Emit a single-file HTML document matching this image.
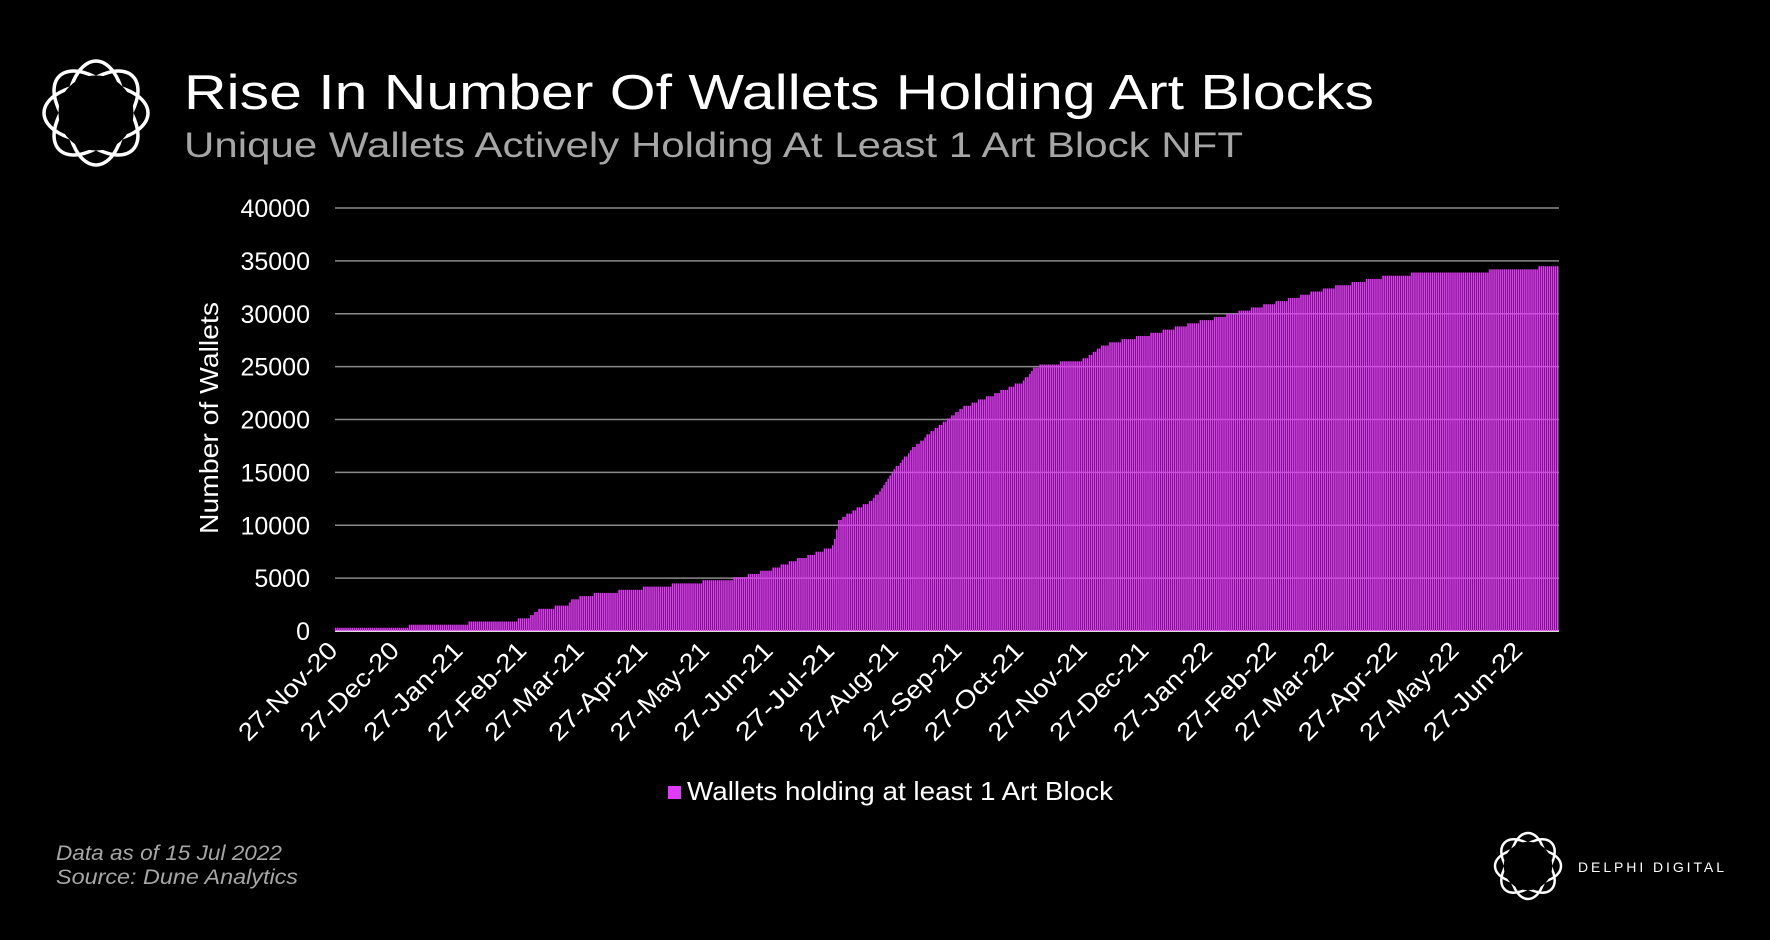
<!DOCTYPE html>
<html><head><meta charset="utf-8">
<style>
body{margin:0;background:#000;width:1770px;height:940px;overflow:hidden;font-family:"Liberation Sans",sans-serif;}
svg{position:absolute;left:0;top:0}
</style></head>
<body>
<svg id="s" width="1770" height="940" xmlns="http://www.w3.org/2000/svg">
<text x="184" y="109" fill="#fff" font-size="49" textLength="1190" lengthAdjust="spacingAndGlyphs">Rise In Number Of Wallets Holding Art Blocks</text>
<text x="184" y="157" fill="#a6a6a6" font-size="35" textLength="1059" lengthAdjust="spacingAndGlyphs">Unique Wallets Actively Holding At Least 1 Art Block NFT</text>
<g id="grid"></g>
<g id="bars"></g>
<g id="xl"></g>
<text transform="translate(218,418) rotate(-90)" text-anchor="middle" fill="#fff" font-size="26" textLength="232" lengthAdjust="spacingAndGlyphs">Number of Wallets</text>
<rect x="668" y="786" width="13" height="13" fill="#e03cf5"/>
<text x="687" y="800" fill="#fff" font-size="26" textLength="426" lengthAdjust="spacingAndGlyphs">Wallets holding at least 1 Art Block</text>
<text x="56" y="860" fill="#a6a6a6" font-size="21" font-style="italic" textLength="226" lengthAdjust="spacingAndGlyphs">Data as of 15 Jul 2022</text>
<text x="56" y="884" fill="#a6a6a6" font-size="21" font-style="italic" textLength="242" lengthAdjust="spacingAndGlyphs">Source: Dune Analytics</text>
<text x="1578" y="872" fill="#fff" font-size="14" letter-spacing="3" textLength="149">DELPHI DIGITAL</text>
<g id="logos"></g>
</svg>
<script>
var NS="http://www.w3.org/2000/svg",s=document.getElementById('s');
function el(p,t,a){var e=document.createElementNS(NS,t);for(var k in a)e.setAttribute(k,a[k]);p.appendChild(e);return e;}
function logo(cx,cy,r,sw){var g=el(document.getElementById('logos'),'g',{fill:'none',stroke:'#fff','stroke-width':sw});
 for(var i=0;i<4;i++){el(g,'ellipse',{cx:cx,cy:cy,rx:r,ry:r*0.55,transform:'rotate('+(i*45)+' '+cx+' '+cy+')'});}
 el(g,'circle',{cx:cx,cy:cy,r:r*0.62,stroke:'#000','stroke-width':sw*3,fill:'#000'});}
logo(96,113,52,3.5);logo(1528,866,33,2.5);
var L=335,R=1559,Y0=631,Y40=208;
function yv(v){return Y0-(v/40000)*(Y0-Y40);}
var gg=document.getElementById('grid');
for(var v=0;v<=40000;v+=5000){var y=yv(v);
 el(gg,'line',{x1:L,x2:R,y1:y,y2:y,stroke:v==0?'#d9d9d9':'#8a8a8a','stroke-width':v==0?2:1.5});
 var t=el(gg,'text',{x:310,y:y+9,'text-anchor':'end',fill:'#fff','font-size':25});t.textContent=v;}
var pts=[[0,200],[30,400],[61,700],[92,1100],[101,2200],[113,2300],[115,2900],[120,3300],[151,4100],[181,4700],[196,5000],[212,5800],[242,8000],[245,10500],[262,12500],[273,15500],[282,17500],[304,21000],[334,23500],[341,25000],[365,25700],[373,27000],[395,28000],[426,29500],[457,31000],[485,32500],[516,33700],[546,33900],[577,34200],[595,34500]];
function val(d){for(var i=1;i<pts.length;i++){if(d<=pts[i][0]){var a=pts[i-1],b=pts[i];return a[1]+(b[1]-a[1])*(d-a[0])/(b[0]-a[0]);}}return 34500;}
var N=596,w=(R-L)/N,bg=document.getElementById('bars');
for(var d=0;d<N;d++){var v=Math.round(val(d)/300)*300;var y=yv(v);
 el(bg,'rect',{x:(L+d*w).toFixed(2),y:y.toFixed(1),width:(w*0.75).toFixed(2),height:(Y0-y).toFixed(1),fill:'#e23cf8'});}
var mons=["27-Nov-20","27-Dec-20","27-Jan-21","27-Feb-21","27-Mar-21","27-Apr-21","27-May-21","27-Jun-21","27-Jul-21","27-Aug-21","27-Sep-21","27-Oct-21","27-Nov-21","27-Dec-21","27-Jan-22","27-Feb-22","27-Mar-22","27-Apr-22","27-May-22","27-Jun-22"];
var days=[0,30,61,92,120,151,181,212,242,273,304,334,365,395,426,457,485,516,546,577];
var xg=document.getElementById('xl');
for(var i=0;i<mons.length;i++){var x=L+days[i]*w+4;
 var t=el(xg,'text',{x:x,y:652,'text-anchor':'end',fill:'#fff','font-size':25,transform:'rotate(-45 '+x+' 652)',textLength:128,lengthAdjust:'spacingAndGlyphs'});t.textContent=mons[i];}
</script>
</body></html>
